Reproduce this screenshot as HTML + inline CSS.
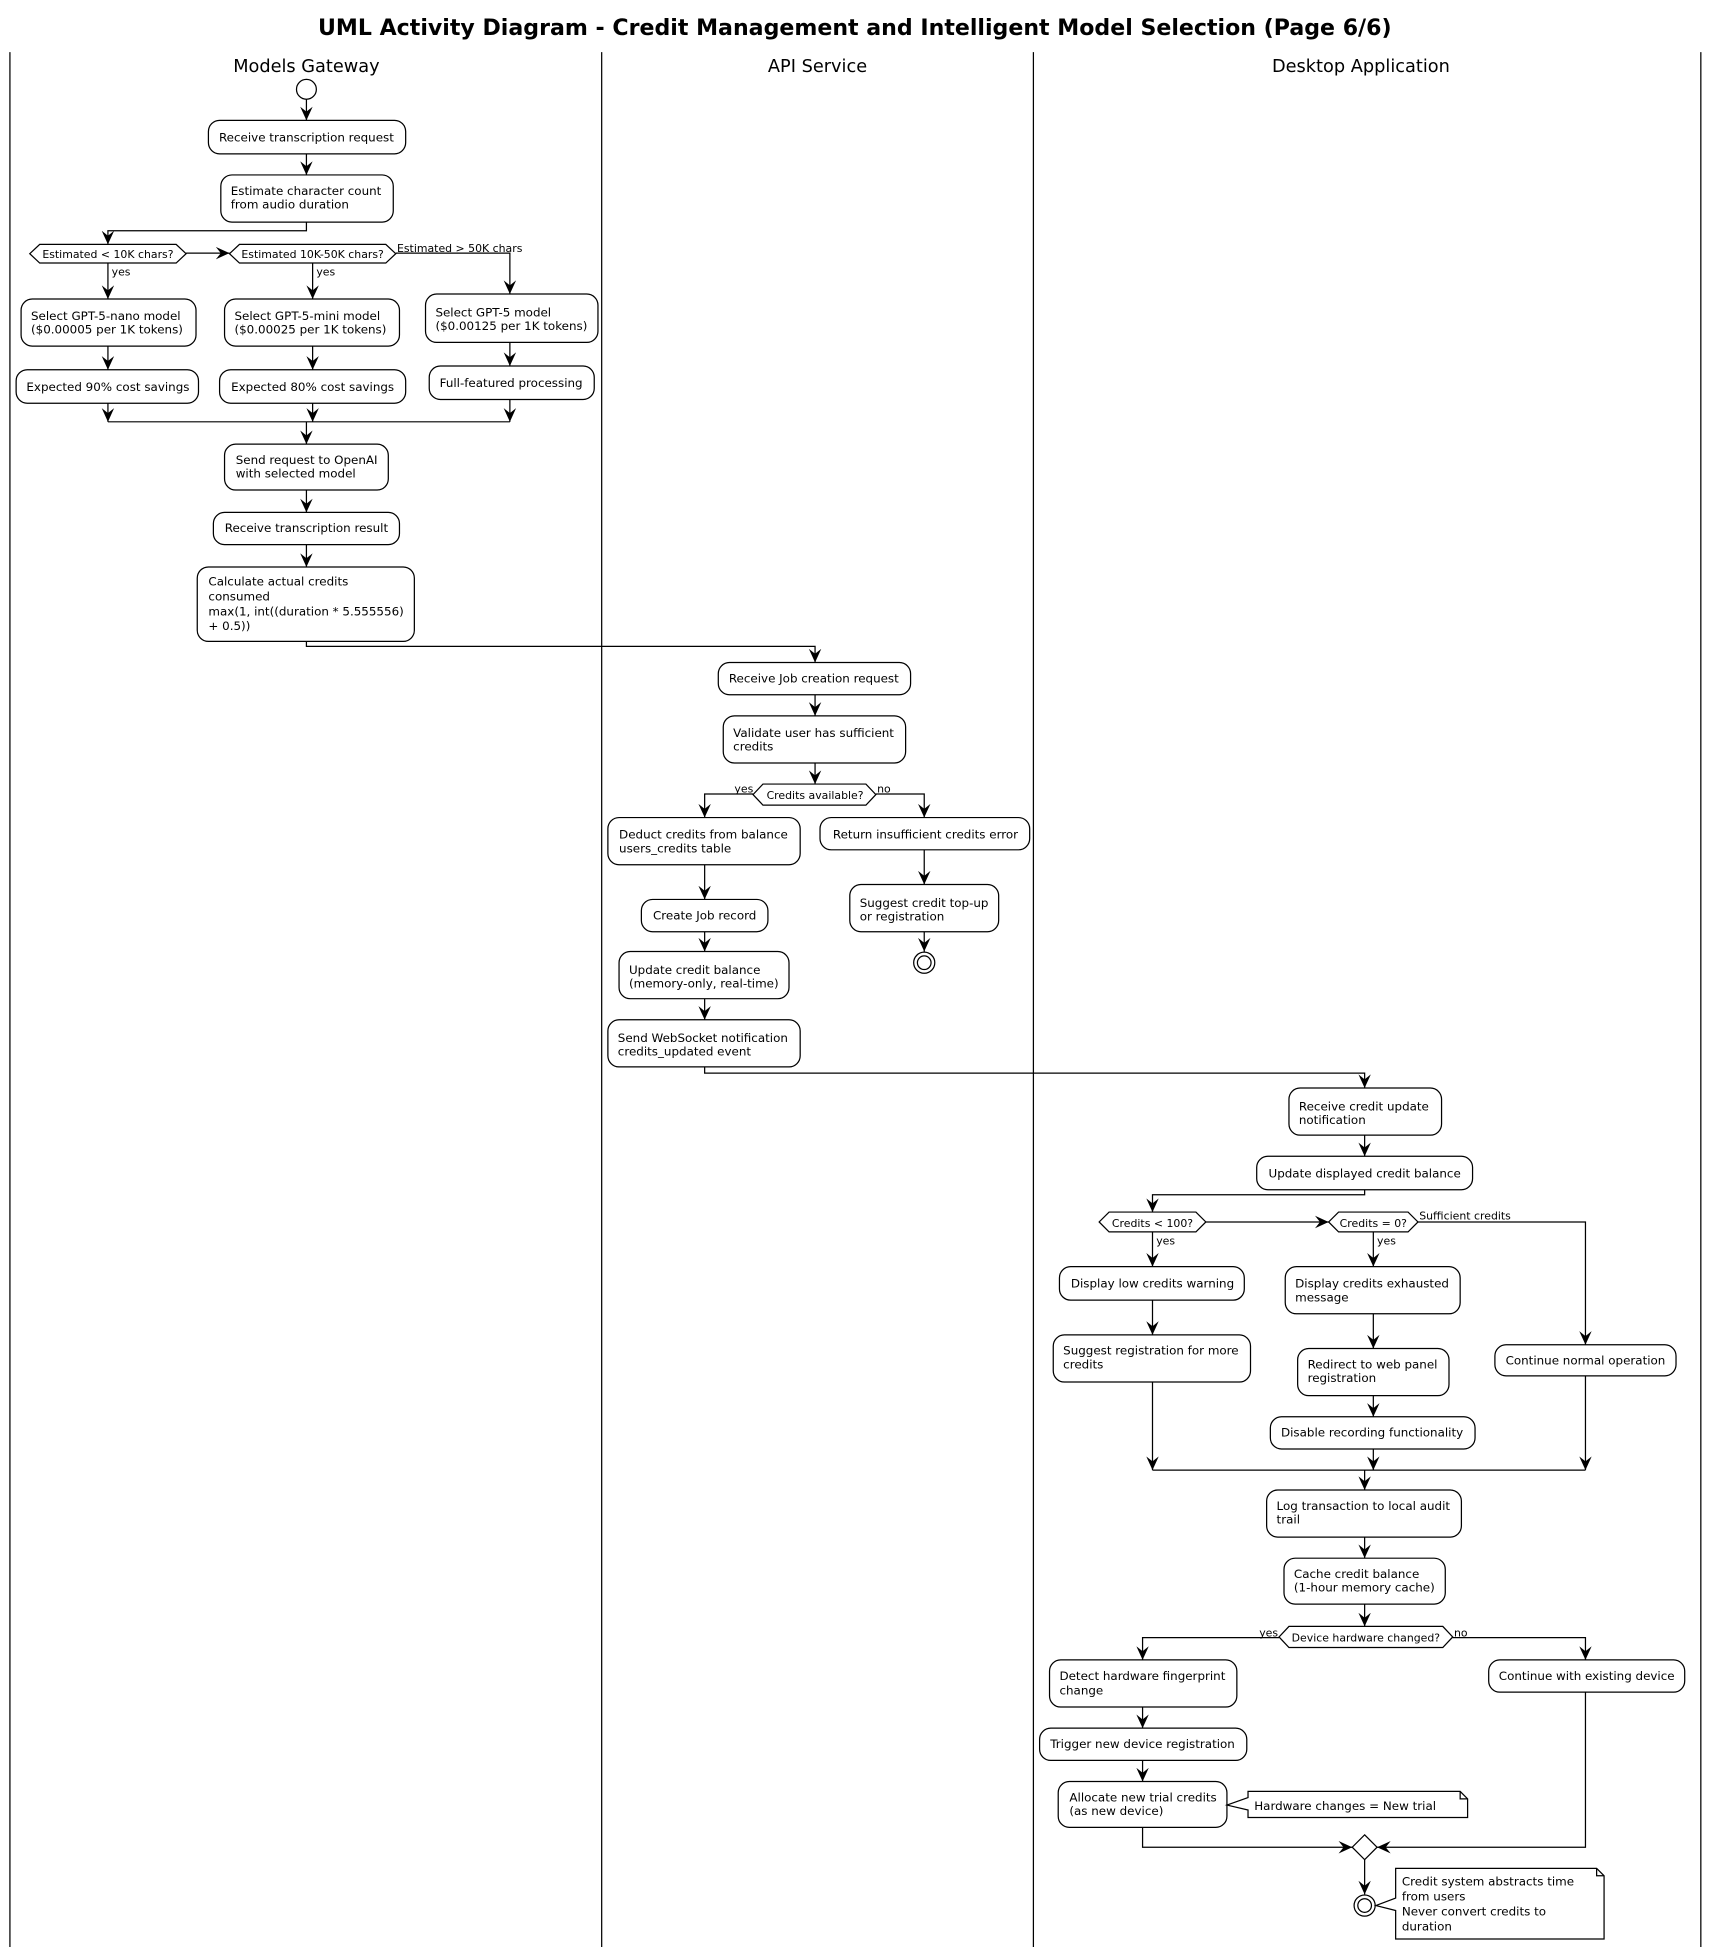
<!DOCTYPE html>
<html><head><meta charset="utf-8"><style>
html,body{margin:0;padding:0;background:#fff}
svg{display:block}
text{font-family:"DejaVu Sans","Liberation Sans",sans-serif;font-size:9.6px;fill:#000}
.b{fill:#fff;stroke:#000;stroke-width:1}
.l{fill:none;stroke:#000;stroke-width:1}
.s{font-size:8.8px}
</style></head><body>
<svg width="1712" height="1947" viewBox="0 0 1380 1569.4" xmlns="http://www.w3.org/2000/svg">
<defs><marker id="a" markerUnits="userSpaceOnUse" markerWidth="12" markerHeight="12" viewBox="0 0 12 10" refX="11" refY="5" orient="auto"><path d="M0,0 L11,5 L0,10 L4,5 z" fill="#000"/></marker></defs>
<rect width="1380" height="1570" fill="#fff"/>
<text x="689" y="28" text-anchor="middle" style="font-size:17.8px;font-weight:bold">UML Activity Diagram - Credit Management and Intelligent Model Selection (Page 6/6)</text>
<g class="l"><line x1="8" y1="42" x2="8" y2="1570"/><line x1="485" y1="42" x2="485" y2="1570"/><line x1="833" y1="42" x2="833" y2="1570"/><line x1="1371" y1="42" x2="1371" y2="1570"/></g>
<text x="247" y="58" text-anchor="middle" style="font-size:14.3px">Models Gateway</text>
<text x="659" y="58" text-anchor="middle" style="font-size:14.3px">API Service</text>
<text x="1097" y="58" text-anchor="middle" style="font-size:14.3px">Desktop Application</text>

<!-- Models Gateway -->
<circle cx="247" cy="72" r="8" class="b"/>
<g class="l" marker-end="url(#a)">
<line x1="247" y1="80" x2="247" y2="97"/>
<line x1="247" y1="124" x2="247" y2="141"/>
<polyline points="247,179 247,186 87,186 87,197"/>
<line x1="150" y1="204" x2="185" y2="204"/>
<polyline points="319,204 411,204 411,237"/>
<line x1="87" y1="212" x2="87" y2="241"/>
<line x1="252" y1="212" x2="252" y2="241"/>
<line x1="87" y1="279" x2="87" y2="298"/>
<line x1="252" y1="279" x2="252" y2="298"/>
<line x1="411" y1="276" x2="411" y2="295"/>
<line x1="87" y1="325" x2="87" y2="340"/>
<line x1="252" y1="325" x2="252" y2="340"/>
<line x1="411" y1="322" x2="411" y2="340"/>
<line x1="247" y1="340" x2="247" y2="358"/>
<line x1="247" y1="395" x2="247" y2="413"/>
<line x1="247" y1="439" x2="247" y2="457"/>
<polyline points="247,517 247,521 657,521 657,534"/>
</g>
<line x1="87" y1="340" x2="411" y2="340" class="l"/>
<rect x="168" y="97" width="159" height="27" rx="9" class="b"/><text x="247" y="114" text-anchor="middle">Receive transcription request</text>
<rect x="178" y="141" width="139" height="38" rx="9" class="b"/><text x="186" y="157">Estimate character count</text><text x="186" y="168">from audio duration</text>
<polygon points="32,197 142,197 150,204.5 142,212 32,212 24,204.5" class="b"/><text x="87" y="208" text-anchor="middle" class="s">Estimated &lt; 10K chars?</text>
<polygon points="193,197 311,197 319,204.5 311,212 193,212 185,204.5" class="b"/><text x="252" y="208" text-anchor="middle" class="s">Estimated 10K-50K chars?</text>
<text x="320" y="203" class="s">Estimated &gt; 50K chars</text>
<text x="90" y="222" class="s">yes</text><text x="255" y="222" class="s">yes</text>
<rect x="17" y="241" width="141" height="38" rx="9" class="b"/><text x="25" y="258">Select GPT-5-nano model</text><text x="25" y="269">($0.00005 per 1K tokens)</text>
<rect x="181" y="241" width="141" height="38" rx="9" class="b"/><text x="189" y="258">Select GPT-5-mini model</text><text x="189" y="269">($0.00025 per 1K tokens)</text>
<rect x="343" y="237" width="139" height="39" rx="9" class="b"/><text x="351" y="255">Select GPT-5 model</text><text x="351" y="266">($0.00125 per 1K tokens)</text>
<rect x="13" y="298" width="147" height="27" rx="9" class="b"/><text x="87" y="315" text-anchor="middle">Expected 90% cost savings</text>
<rect x="177" y="298" width="150" height="27" rx="9" class="b"/><text x="252" y="315" text-anchor="middle">Expected 80% cost savings</text>
<rect x="346" y="295" width="133" height="27" rx="9" class="b"/><text x="412" y="312" text-anchor="middle">Full-featured processing</text>
<rect x="181" y="358" width="132" height="37" rx="9" class="b"/><text x="190" y="374">Send request to OpenAI</text><text x="190" y="385">with selected model</text>
<rect x="172" y="413" width="150" height="26" rx="9" class="b"/><text x="247" y="429" text-anchor="middle">Receive transcription result</text>
<rect x="159" y="457" width="175" height="60" rx="9" class="b"/><text x="168" y="472">Calculate actual credits</text><text x="168" y="484">consumed</text><text x="168" y="496">max(1, int((duration * 5.555556)</text><text x="168" y="508">+ 0.5))</text>

<!-- API Service -->
<g class="l" marker-end="url(#a)">
<line x1="657" y1="560" x2="657" y2="577"/>
<line x1="657" y1="615" x2="657" y2="632"/>
<polyline points="607,640 568,640 568,659"/>
<polyline points="706,640 745,640 745,659"/>
<line x1="568" y1="697" x2="568" y2="725"/>
<line x1="745" y1="685" x2="745" y2="713"/>
<line x1="745" y1="751" x2="745" y2="767"/>
<line x1="568" y1="751" x2="568" y2="767"/>
<line x1="568" y1="805" x2="568" y2="822"/>
<polyline points="568,860 568,865 1100,865 1100,877"/>
</g>
<rect x="579" y="534" width="155" height="26" rx="9" class="b"/><text x="656" y="550" text-anchor="middle">Receive Job creation request</text>
<rect x="583" y="577" width="147" height="38" rx="9" class="b"/><text x="591" y="594">Validate user has sufficient</text><text x="591" y="605">credits</text>
<polygon points="615,632 698,632 706,640.5 698,649 615,649 607,640.5" class="b"/><text x="657" y="644" text-anchor="middle" class="s">Credits available?</text>
<text x="592" y="639" class="s">yes</text><text x="707" y="639" class="s">no</text>
<rect x="490" y="659" width="155" height="38" rx="9" class="b"/><text x="499" y="676">Deduct credits from balance</text><text x="499" y="687">users_credits table</text>
<rect x="661" y="659" width="169" height="26" rx="9" class="b"/><text x="746" y="676" text-anchor="middle">Return insufficient credits error</text>
<rect x="517" y="725" width="102" height="26" rx="9" class="b"/><text x="568" y="741" text-anchor="middle">Create Job record</text>
<rect x="685" y="713" width="120" height="38" rx="9" class="b"/><text x="693" y="731">Suggest credit top-up</text><text x="693" y="742">or registration</text>
<circle cx="745" cy="776" r="8.5" class="b"/><circle cx="745" cy="776" r="5.5" class="b"/>
<rect x="499" y="767" width="137" height="38" rx="9" class="b"/><text x="507" y="785">Update credit balance</text><text x="507" y="796">(memory-only, real-time)</text>
<rect x="490" y="822" width="155" height="38" rx="9" class="b"/><text x="498" y="840">Send WebSocket notification</text><text x="498" y="851">credits_updated event</text>

<!-- Desktop -->
<g class="l" marker-end="url(#a)">
<line x1="1100" y1="915" x2="1100" y2="932"/>
<polyline points="1100,959 1100,963 929,963 929,977"/>
<line x1="972" y1="985" x2="1071" y2="985"/>
<polyline points="1143,985 1278,985 1278,1084"/>
<line x1="929" y1="993" x2="929" y2="1021"/>
<line x1="1107" y1="993" x2="1107" y2="1021"/>
<line x1="929" y1="1048" x2="929" y2="1076"/>
<line x1="1107" y1="1059" x2="1107" y2="1087"/>
<line x1="1107" y1="1125" x2="1107" y2="1142"/>
<line x1="929" y1="1114" x2="929" y2="1185"/>
<line x1="1107" y1="1168" x2="1107" y2="1185"/>
<line x1="1278" y1="1109" x2="1278" y2="1185"/>
<line x1="1100" y1="1185" x2="1100" y2="1201"/>
<line x1="1100" y1="1239" x2="1100" y2="1256"/>
<line x1="1100" y1="1293" x2="1100" y2="1311"/>
<polyline points="1031,1320 921,1320 921,1338"/>
<polyline points="1171,1320 1278,1320 1278,1338"/>
<line x1="921" y1="1376" x2="921" y2="1393"/>
<line x1="921" y1="1419" x2="921" y2="1436"/>
<polyline points="921,1473 921,1489 1090,1489"/>
<polyline points="1278,1364 1278,1489 1110,1489"/>
<line x1="1100" y1="1499" x2="1100" y2="1527"/>
</g>
<line x1="929" y1="1185" x2="1278" y2="1185" class="l"/>
<rect x="1039" y="877" width="123" height="38" rx="9" class="b"/><text x="1047" y="895">Receive credit update</text><text x="1047" y="906">notification</text>
<rect x="1013" y="932" width="174" height="27" rx="9" class="b"/><text x="1100" y="949" text-anchor="middle">Update displayed credit balance</text>
<polygon points="894,977 964,977 972,985 964,993 894,993 886,985" class="b"/><text x="929" y="989" text-anchor="middle" class="s">Credits &lt; 100?</text>
<polygon points="1079,977 1135,977 1143,985 1135,993 1079,993 1071,985" class="b"/><text x="1107" y="989" text-anchor="middle" class="s">Credits = 0?</text>
<text x="1144" y="983" class="s">Sufficient credits</text>
<text x="932" y="1003" class="s">yes</text><text x="1110" y="1003" class="s">yes</text>
<rect x="854" y="1021" width="149" height="27" rx="9" class="b"/><text x="929" y="1038" text-anchor="middle">Display low credits warning</text>
<rect x="849" y="1076" width="159" height="38" rx="9" class="b"/><text x="857" y="1092">Suggest registration for more</text><text x="857" y="1103">credits</text>
<rect x="1036" y="1021" width="141" height="38" rx="9" class="b"/><text x="1044" y="1038">Display credits exhausted</text><text x="1044" y="1049">message</text>
<rect x="1046" y="1087" width="122" height="38" rx="9" class="b"/><text x="1054" y="1103">Redirect to web panel</text><text x="1054" y="1114">registration</text>
<rect x="1024" y="1142" width="165" height="26" rx="9" class="b"/><text x="1106" y="1158" text-anchor="middle">Disable recording functionality</text>
<rect x="1205" y="1084" width="146" height="25" rx="9" class="b"/><text x="1278" y="1100" text-anchor="middle">Continue normal operation</text>
<rect x="1021" y="1201" width="157" height="38" rx="9" class="b"/><text x="1029" y="1217">Log transaction to local audit</text><text x="1029" y="1228">trail</text>
<rect x="1035" y="1256" width="130" height="37" rx="9" class="b"/><text x="1043" y="1272">Cache credit balance</text><text x="1043" y="1283">(1-hour memory cache)</text>
<polygon points="1039,1311 1163,1311 1171,1319.5 1163,1328 1039,1328 1031,1319.5" class="b"/><text x="1101" y="1323" text-anchor="middle" class="s">Device hardware changed?</text>
<text x="1015" y="1319" class="s">yes</text><text x="1172" y="1319" class="s">no</text>
<rect x="846" y="1338" width="151" height="38" rx="9" class="b"/><text x="854" y="1354">Detect hardware fingerprint</text><text x="854" y="1366">change</text>
<rect x="1200" y="1338" width="158" height="26" rx="9" class="b"/><text x="1279" y="1354" text-anchor="middle">Continue with existing device</text>
<rect x="838" y="1393" width="167" height="26" rx="9" class="b"/><text x="921" y="1409" text-anchor="middle">Trigger new device registration</text>
<rect x="853" y="1436" width="136" height="37" rx="9" class="b"/><text x="862" y="1452">Allocate new trial credits</text><text x="862" y="1463">(as new device)</text>
<polygon points="989,1455 1006,1449 1006,1444 1177,1444 1183,1450 1183,1465 1006,1465 1006,1459" class="b"/>
<polyline points="1177,1444 1177,1450 1183,1450" class="l"/>
<text x="1011" y="1459">Hardware changes = New trial</text>
<polygon points="1100,1479 1110,1489 1100,1499 1090,1489" class="b"/>
<circle cx="1100" cy="1536" r="8.5" class="b"/><circle cx="1100" cy="1536" r="5.5" class="b"/>
<polygon points="1109,1536 1125,1530 1125,1506 1287,1506 1293,1512 1293,1563 1125,1563 1125,1540" class="b"/>
<polyline points="1287,1506 1287,1512 1293,1512" class="l"/>
<text x="1130" y="1520">Credit system abstracts time</text><text x="1130" y="1532">from users</text><text x="1130" y="1544">Never convert credits to</text><text x="1130" y="1556">duration</text>
</svg>
</body></html>
